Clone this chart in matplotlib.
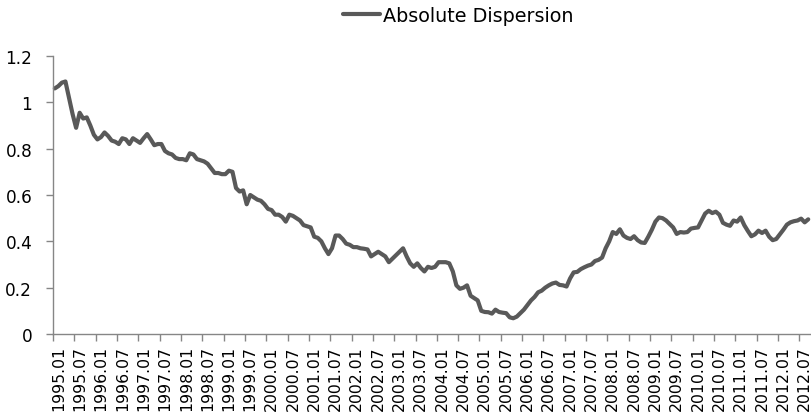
import matplotlib
matplotlib.use("Agg")
import matplotlib.pyplot as plt
import numpy as np

series_name = "Absolute Dispersion"
start_year = 1995
values = [
    # 1995
    1.06, 1.07, 1.085, 1.09, 1.02, 0.95, 0.89, 0.955, 0.93, 0.935, 0.90, 0.86,
    # 1996
    0.84, 0.85, 0.87, 0.855, 0.835, 0.83, 0.82, 0.845, 0.84, 0.82, 0.845, 0.835,
    # 1997
    0.825, 0.845, 0.863, 0.84, 0.815, 0.82, 0.82, 0.79, 0.78, 0.775, 0.76, 0.755,
    # 1998
    0.755, 0.75, 0.78, 0.775, 0.755, 0.75, 0.745, 0.735, 0.715, 0.695, 0.695, 0.69,
    # 1999
    0.69, 0.705, 0.70, 0.63, 0.615, 0.62, 0.56, 0.60, 0.59, 0.58, 0.575, 0.56,
    # 2000
    0.54, 0.535, 0.515, 0.515, 0.505, 0.485, 0.515, 0.51, 0.50, 0.49, 0.47, 0.465,
    # 2001
    0.46, 0.42, 0.415, 0.40, 0.37, 0.345, 0.37, 0.425, 0.425, 0.41, 0.39, 0.385,
    # 2002
    0.375, 0.375, 0.37, 0.368, 0.365, 0.335, 0.345, 0.355, 0.345, 0.335, 0.31, 0.325,
    # 2003
    0.34, 0.355, 0.37, 0.335, 0.305, 0.29, 0.305, 0.285, 0.27, 0.29, 0.285, 0.29,
    # 2004
    0.31, 0.31, 0.31, 0.305, 0.27, 0.21, 0.195, 0.20, 0.21, 0.165, 0.155, 0.145,
    # 2005
    0.10, 0.095, 0.094, 0.088, 0.105, 0.095, 0.092, 0.09, 0.072, 0.068, 0.075, 0.09,
    # 2006
    0.105, 0.125, 0.145, 0.16, 0.18, 0.187, 0.20, 0.21, 0.218, 0.222, 0.212, 0.21,
    # 2007
    0.205, 0.24, 0.266, 0.268, 0.28, 0.288, 0.295, 0.30, 0.315, 0.32, 0.33, 0.37,
    # 2008
    0.40, 0.44, 0.432, 0.452, 0.425, 0.415, 0.41, 0.422, 0.405, 0.395, 0.393, 0.42,
    # 2009
    0.45, 0.485, 0.503, 0.50, 0.49, 0.475, 0.46, 0.432, 0.44, 0.438, 0.44, 0.455,
    # 2010
    0.458, 0.46, 0.49, 0.52, 0.532, 0.522, 0.528, 0.515, 0.48, 0.472, 0.467, 0.49,
    # 2011
    0.485, 0.503, 0.47, 0.445, 0.422, 0.43, 0.446, 0.436, 0.446, 0.42, 0.405, 0.41,
    # 2012
    0.43, 0.45, 0.472, 0.482, 0.487, 0.49, 0.498, 0.482, 0.495,
]
y_ticks = [0, 0.2, 0.4, 0.6, 0.8, 1, 1.2]
y_tick_labels = ["0", "0.2", "0.4", "0.6", "0.8", "1", "1.2"]
label_step = 6

n = len(values)
months = [f"{start_year + k // 12}.{k % 12 + 1:02d}" for k in range(n)]

plt.rcParams['font.family'] = ['DejaVu Sans']
fig = plt.figure(figsize=(8.12, 4.14), dpi=100)
ax = fig.add_axes([53/812, 1-335/414, 757/812, 278/414])

x = np.arange(n)
line, = ax.plot(x, values, color='#595959', lw=3.0, solid_joinstyle='round',
                solid_capstyle='round', label=series_name, clip_on=False)

ax.set_xlim(-0.5, n - 0.5)
ax.set_ylim(0, 1.2)
ax.set_yticks(y_ticks)
ax.set_yticklabels(y_tick_labels, fontsize=12.2, color='black')

lab_idx = list(range(0, n, label_step))
ax.set_xticks([i - 0.5 for i in lab_idx])
ax.set_xticklabels([])
ax.set_xticks([i + 1 for i in lab_idx], minor=True)
ax.set_xticklabels([months[i] for i in lab_idx], minor=True, rotation=90,
                   fontsize=11.3, color='black')
ax.tick_params(axis='x', which='minor', length=0, pad=8)
ax.tick_params(axis='x', which='major', length=5, color='#868686', width=1)
ax.tick_params(axis='y', length=5, color='#868686', width=1, pad=10)

for s in ['top', 'right']:
    ax.spines[s].set_visible(False)
for s in ['left', 'bottom']:
    ax.spines[s].set_color('#868686')
    ax.spines[s].set_linewidth(1)

fig.legend(handles=[line], loc='center', bbox_to_anchor=(458/812, 1-16/414),
           frameon=False, fontsize=13.8, handlelength=1.95, handletextpad=0.15)

fig.savefig("out.png", dpi=100)
